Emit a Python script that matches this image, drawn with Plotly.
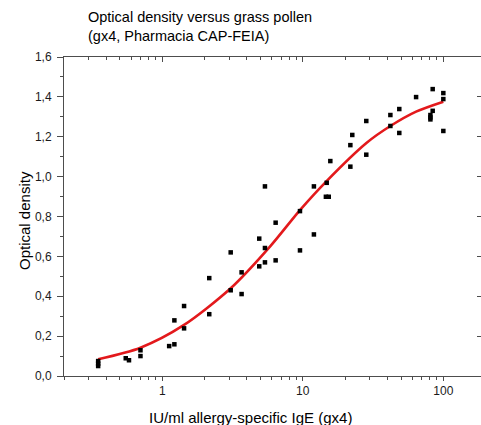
import plotly.graph_objects as go

# Measured points (IU/ml allergy-specific IgE, optical density)
ige = [0.35, 0.35, 0.35, 0.55, 0.58, 0.70, 0.70, 1.12, 1.22, 1.22, 1.43, 1.43,
       2.16, 2.16, 3.07, 3.07, 3.67, 3.67, 4.9, 4.9, 5.38, 5.38, 5.38,
       6.41, 6.41, 9.55, 9.55, 12.0, 12.0, 14.6, 15.3, 14.8, 15.7,
       21.8, 21.8, 22.5, 28.3, 28.3, 42, 42, 48.6, 48.6, 64,
       80.9, 80.9, 80.9, 84, 84, 100, 100, 100]
od = [0.075, 0.062, 0.05, 0.089, 0.079, 0.129, 0.10, 0.15, 0.159, 0.279, 0.351, 0.239,
      0.491, 0.31, 0.43, 0.62, 0.411, 0.52, 0.689, 0.55, 0.57, 0.642, 0.951,
      0.769, 0.58, 0.63, 0.827, 0.71, 0.951, 0.899, 0.899, 0.969, 1.078,
      1.05, 1.158, 1.209, 1.11, 1.279, 1.309, 1.254, 1.339, 1.219, 1.399,
      1.309, 1.297, 1.287, 1.439, 1.33, 1.419, 1.389, 1.229]

# Fitted curve
fit_x = [0.35, 0.70, 1.43, 3.07, 5.84, 9.55, 14.6, 28.5, 42, 64, 100]
fit_y = [0.084, 0.142, 0.256, 0.44, 0.649, 0.832, 0.974, 1.17, 1.254, 1.326, 1.376]

x_ticks = [1, 10, 100]
x_tick_text = ["1", "10", "100"]
x_minor = [0.2, 0.3, 0.4, 0.5, 0.6, 0.7, 0.8, 0.9, 2, 3, 4, 5, 6, 7, 8, 9,
           20, 30, 40, 50, 60, 70, 80, 90]

title_text = "Optical density versus grass pollen<br>(gx4, Pharmacia CAP-FEIA)"
x_title = "IU/ml allergy-specific IgE (gx4)"
y_title = "Optical density"

FONT = "Liberation Sans, Arial, sans-serif"
TXT = "#1a1a1a"
AX = "#4d4d4d"

fig = go.Figure()
fig.add_trace(go.Scatter(x=fit_x, y=fit_y, mode="lines",
                         line=dict(color="#e3191c", width=2.6, shape="spline", smoothing=0.8),
                         hoverinfo="skip", showlegend=False))
fig.add_trace(go.Scatter(x=ige, y=od, mode="markers",
                         marker=dict(symbol="square", size=4.5, color="black"),
                         showlegend=False))
# invisible trace to activate mirror axes
fig.add_trace(go.Scatter(x=[1], y=[0], xaxis="x2", yaxis="y2", mode="markers",
                         marker=dict(opacity=0), hoverinfo="skip", showlegend=False))

PT, PB, PL, PR = 57, 376, 64, 481   # plot-area pixel edges
def py(p):
    return (PB - p) / (PB - PT)
def px(p):
    return (p - PL) / (PR - PL)

fig.add_annotation(text=title_text, xref="paper", yref="paper",
                   x=px(86), y=py(26.5), xanchor="left", yanchor="middle", align="left",
                   showarrow=False, font=dict(family=FONT, size=14.5, color="black"))
fig.add_annotation(text=y_title, xref="paper", yref="paper", textangle=-90,
                   x=px(24), y=py(221), xanchor="center", yanchor="middle",
                   showarrow=False, font=dict(family=FONT, size=15, color="black"))
fig.add_annotation(text=x_title, xref="paper", yref="paper",
                   x=px(250), y=py(417), xanchor="center", yanchor="middle",
                   showarrow=False, font=dict(family=FONT, size=15, color="black"))

xr = [-0.69897, 2.268]
fig.update_layout(
    width=481, height=425,
    margin=dict(l=PL, r=481 - PR, t=PT, b=425 - PB),
    paper_bgcolor="white", plot_bgcolor="white",
    separators=", ",
    font=dict(family=FONT, color=TXT, size=12),
    xaxis=dict(type="log", range=xr, showgrid=False, zeroline=False,
               showline=True, linecolor=AX, linewidth=1,
               ticks="outside", ticklen=4, tickcolor=AX, tickwidth=1,
               tickvals=x_ticks, ticktext=x_tick_text,
               minor=dict(ticks="outside", ticklen=3, tickcolor=AX, tickvals=x_minor),
               tickfont=dict(size=12, color=TXT)),
    xaxis2=dict(type="log", range=xr, overlaying="x", side="top", showgrid=False,
                zeroline=False, showline=True, linecolor=AX, linewidth=1,
                ticks="inside", ticklen=5, tickcolor=AX,
                tickvals=x_ticks, showticklabels=False,
                minor=dict(ticks="inside", ticklen=3, tickcolor=AX, tickvals=x_minor)),
    yaxis=dict(range=[0, 1.6], showgrid=False, zeroline=False,
               showline=True, linecolor=AX, linewidth=1,
               ticks="outside", ticklen=6, tickcolor=AX,
               tickmode="linear", tick0=0, dtick=0.2, tickformat=".1f",
               ticklabelstandoff=3,
               minor=dict(ticks="outside", ticklen=3, tickcolor=AX, dtick=0.1),
               tickfont=dict(size=12, color=TXT)),
    yaxis2=dict(range=[0, 1.6], overlaying="y", side="right", showgrid=False,
                zeroline=False, showline=False,
                ticks="inside", ticklen=4, tickcolor=AX,
                tickmode="linear", tick0=0, dtick=0.2, showticklabels=False),
)

fig.write_html("out.html", config={"displayModeBar": False},
               post_script="document.body.style.margin='0';")
